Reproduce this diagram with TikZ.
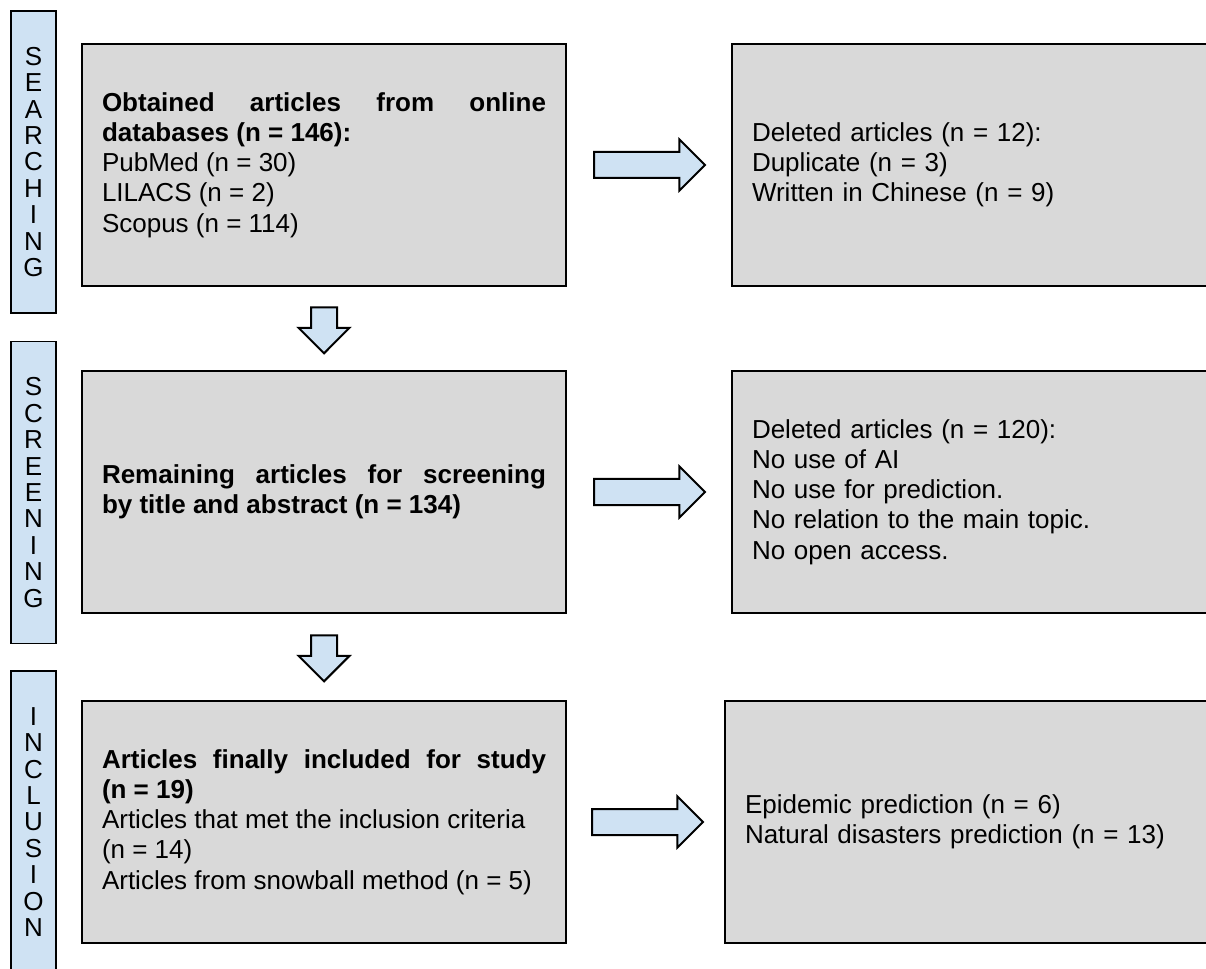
\documentclass[tikz,border=0pt]{standalone}
\usepackage{fontspec}
\setmainfont{Liberation Sans}
\usetikzlibrary{calc,shapes.arrows}
\definecolor{stripblue}{HTML}{CFE2F3}
\definecolor{boxgray}{HTML}{D9D9D9}
\tikzset{
  phase/.style={draw=black, line width=1.1pt, fill=stripblue, minimum width=33.75pt,
    minimum height=226.5pt, inner sep=0pt, align=center, font=\fontsize{19.5}{19.8}\selectfont},
  greybox/.style={draw=black, line width=1.5pt, fill=boxgray, minimum width=363pt,
    minimum height=182pt, inner xsep=15pt, text width=333pt, font=\fontsize{19.5}{22.7}\selectfont},
  blockarrow/.style={single arrow, draw=black, line width=1.5pt, fill=stripblue,
    single arrow head extend=9.4pt, inner xsep=0pt, inner ysep=9pt, anchor=tail}
}
\begin{document}
\begin{tikzpicture}[x=0.75pt, y=-0.75pt]
		%%%%% START %%%%%
		\useasboundingbox (0,0) rectangle (1206,969);
		\clip (0,0) rectangle (1206,969);
		
		% phases
		\node[phase] (searching) at (33.5, 162) {S\\E\\A\\R\\C\\H\\I\\N\\G};
		\node[phase] (screening) at (33.5, 492.5) {S\\C\\R\\E\\E\\N\\I\\N\\G};
		\node[phase] (inclusion) at (33.5, 822) {I\\N\\C\\L\\U\\S\\I\\O\\N};
		
		% left column
		\node[greybox, align=justify] (obtained) at (324, 165)
		  {\textbf{Obtained articles from online\linebreak databases (n = 146):}\\PubMed (n = 30)\\LILACS (n = 2)\\Scopus (n = 114)};
		\node[greybox, align=justify] (remaining) at (324, 492)
		  {\textbf{Remaining articles for screening\linebreak by title and abstract (n = 134)}};
		\node[greybox, align=justify] (included) at (324, 822)
		  {\textbf{Articles finally included for study\linebreak (n = 19)}\\Articles that met the inclusion criteria\\(n = 14)\\Articles from snowball method (n = 5)};
		
		% right column
		\node[greybox, align=left] (deleted1) at (974, 165)
		  {Deleted articles (n = 12):\\Duplicate (n = 3)\\Written in Chinese (n = 9)};
		\node[greybox, align=left] (deleted2) at (974, 492)
		  {Deleted articles (n = 120):\\No use of AI\\No use for prediction.\\No relation to the main topic.\\No open access.};
		\node[greybox, align=left] (topics) at (967, 822)
		  {Epidemic prediction (n = 6)\\Natural disasters prediction (n = 13)};
		
		% arrows
		\node[blockarrow, minimum height=83.25pt] (right1) at ($(obtained.east)+(26,0)$) {};
		\node[blockarrow, minimum height=83.25pt] (right2) at ($(remaining.east)+(26,0)$) {};
		\node[blockarrow, minimum height=83.25pt] (right3) at ($(included.east)+(24,0)$) {};
		\node[blockarrow, minimum height=34.5pt, rotate=-90] (down1) at ($(obtained.south)+(0,19)$) {};
		\node[blockarrow, minimum height=34.5pt, rotate=-90] (down2) at ($(remaining.south)+(0,20)$) {};
		
		%%%%% END %%%%%
\end{tikzpicture}
\end{document}
